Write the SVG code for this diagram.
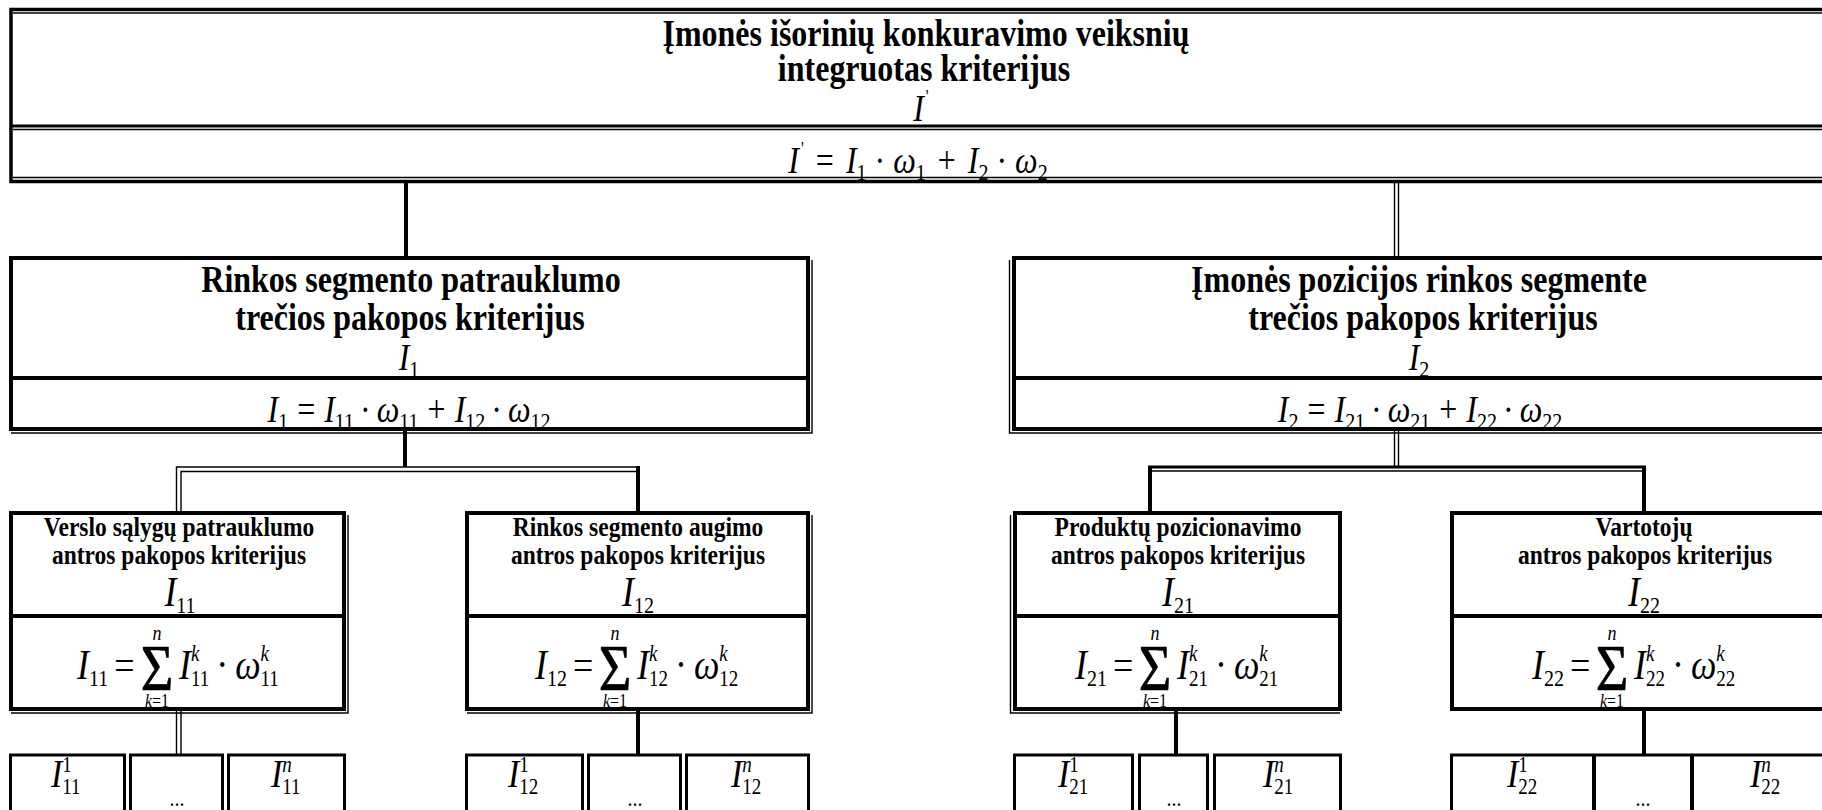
<svg xmlns="http://www.w3.org/2000/svg" width="1822" height="810" viewBox="0 0 1822 810">
<style>
.bg{fill:#fff}
.frm{fill:none;stroke:#000;stroke-width:4}
.cell{fill:none;stroke:#000;stroke-width:3}
.thk{stroke:#000;stroke-width:4;fill:none}
.thn{stroke:#000;stroke-width:1.4;fill:none}
.t{font-family:"Liberation Serif","Times New Roman",serif;font-weight:bold;fill:#000;text-anchor:middle}
.t1{font-size:32px}
.t3{font-size:23.5px}
.m{font-family:"Liberation Serif","Times New Roman",serif;fill:#000}
.it{font-style:italic}
.mid{text-anchor:middle}
.sig{font-family:"Liberation Serif","Times New Roman",serif;fill:#000;text-anchor:middle;font-size:56px;stroke:#000;stroke-width:0.6}
</style>
<rect class="bg" x="0" y="0" width="1822" height="810"/>

<g id="connectors">
  <line class="thk" x1="406" y1="183" x2="406" y2="257"/>
  <line class="thn" x1="1394.5" y1="183" x2="1394.5" y2="257"/>
  <line class="thn" x1="1398.5" y1="183" x2="1398.5" y2="257"/>
  <line class="thk" x1="405" y1="431" x2="405" y2="467"/>
  <path class="thn" d="M176.5 512 V467 H640"/>
  <path class="thn" d="M181 512 V471.5 H636"/>
  <line class="thk" x1="638" y1="466" x2="638" y2="512"/>
  <line class="thn" x1="1394.5" y1="431" x2="1394.5" y2="466"/>
  <line class="thn" x1="1398.5" y1="431" x2="1398.5" y2="466"/>
  <line stroke="#000" stroke-width="3" x1="1148" y1="467" x2="1646" y2="467"/>
  <line class="thn" x1="1152" y1="471" x2="1642" y2="471"/>
  <line class="thk" x1="1150" y1="466" x2="1150" y2="512"/>
  <line class="thk" x1="1644" y1="466" x2="1644" y2="512"/>
  <line class="thn" x1="176.5" y1="711" x2="176.5" y2="754"/>
  <line class="thn" x1="181" y1="711" x2="181" y2="754"/>
  <line class="thk" x1="638" y1="711" x2="638" y2="754"/>
  <line class="thk" x1="1176" y1="711" x2="1176" y2="754"/>
  <line class="thk" x1="1644" y1="711" x2="1644" y2="754"/>
</g>

<g id="node-top">
  <rect x="11" y="9.5" width="1840" height="172" fill="none" stroke="#000" stroke-width="3.5"/>
  <line class="thn" x1="13" y1="13" x2="1822" y2="13"/>
  <line stroke="#000" stroke-width="3" x1="11" y1="126" x2="1822" y2="126"/>
  <line class="thn" x1="13" y1="129.5" x2="1822" y2="129.5"/>
  <line class="thn" x1="13" y1="177.5" x2="1822" y2="177.5"/>
  <text class="t t1" transform="translate(926 46) scale(1 1.18)">Įmonės išorinių konkuravimo veiksnių</text>
  <text class="t t1" transform="translate(924 81) scale(1 1.18)">integruotas kriterijus</text>
  <text class="m mid" transform="translate(921 121) scale(1 1.18)" font-size="32"><tspan class="it">I</tspan><tspan font-size="16" dy="-15" dx="2">'</tspan></text>
  <text class="m mid" transform="translate(918 173) scale(1 1.18)" font-size="32"><tspan class="it">I</tspan><tspan font-size="16" dy="-15" dx="2">'</tspan><tspan dy="15" dx="12">=</tspan><tspan class="it" dx="12">I</tspan><tspan font-size="20" dy="6">1</tspan><tspan dy="-6" dx="8">·</tspan><tspan class="it" dx="8">ω</tspan><tspan font-size="20" dy="6">1</tspan><tspan dy="-6" dx="12">+</tspan><tspan class="it" dx="12">I</tspan><tspan font-size="20" dy="6">2</tspan><tspan dy="-6" dx="8">·</tspan><tspan class="it" dx="8">ω</tspan><tspan font-size="20" dy="6">2</tspan></text>
</g>

<g id="node-I1">
  <rect class="frm" x="11" y="258" width="797" height="171"/>
  <line class="thk" x1="11" y1="378" x2="808" y2="378"/>
  <path class="thn" d="M812 260 V433 H11"/>
  <text class="t t1" transform="translate(411 292) scale(1 1.18)">Rinkos segmento patrauklumo</text>
  <text class="t t1" transform="translate(410 330) scale(1 1.18)">trečios pakopos kriterijus</text>
  <text class="m mid" transform="translate(409 370) scale(1 1.18)" font-size="32"><tspan class="it">I</tspan><tspan font-size="20" dy="6">1</tspan></text>
  <text class="m mid" transform="translate(409 422) scale(1 1.18)" font-size="32"><tspan class="it">I</tspan><tspan font-size="20" dy="6">1</tspan><tspan dy="-6" dx="9">=</tspan><tspan class="it" dx="9">I</tspan><tspan font-size="20" dy="6">11</tspan><tspan dy="-6" dx="6">·</tspan><tspan class="it" dx="6">ω</tspan><tspan font-size="20" dy="6">11</tspan><tspan dy="-6" dx="9">+</tspan><tspan class="it" dx="9">I</tspan><tspan font-size="20" dy="6">12</tspan><tspan dy="-6" dx="6">·</tspan><tspan class="it" dx="6">ω</tspan><tspan font-size="20" dy="6">12</tspan></text>
</g>

<g id="node-I2">
  <rect class="frm" x="1014" y="258" width="830" height="171"/>
  <line class="thk" x1="1014" y1="378" x2="1822" y2="378"/>
  <path class="thn" d="M1009.5 260 V433 H1822"/>
  <text class="t t1" transform="translate(1419 292) scale(1 1.18)">Įmonės pozicijos rinkos segmente</text>
  <text class="t t1" transform="translate(1423 330) scale(1 1.18)">trečios pakopos kriterijus</text>
  <text class="m mid" transform="translate(1419 370) scale(1 1.18)" font-size="32"><tspan class="it">I</tspan><tspan font-size="20" dy="6">2</tspan></text>
  <text class="m mid" transform="translate(1420 422) scale(1 1.18)" font-size="32"><tspan class="it">I</tspan><tspan font-size="20" dy="6">2</tspan><tspan dy="-6" dx="9">=</tspan><tspan class="it" dx="9">I</tspan><tspan font-size="20" dy="6">21</tspan><tspan dy="-6" dx="6">·</tspan><tspan class="it" dx="6">ω</tspan><tspan font-size="20" dy="6">21</tspan><tspan dy="-6" dx="9">+</tspan><tspan class="it" dx="9">I</tspan><tspan font-size="20" dy="6">22</tspan><tspan dy="-6" dx="6">·</tspan><tspan class="it" dx="6">ω</tspan><tspan font-size="20" dy="6">22</tspan></text>
</g>

<g id="node-I11">
  <rect class="frm" x="11" y="513" width="333" height="196"/>
  <line class="thk" x1="11" y1="616" x2="344" y2="616"/>
  <path class="thn" d="M348 515 V713 H11"/>
  <text class="t t3" transform="translate(179 536) scale(1 1.18)">Verslo sąlygų patrauklumo</text>
  <text class="t t3" transform="translate(179 564) scale(1 1.18)">antros pakopos kriterijus</text>
  <text class="m mid" transform="translate(180 606) scale(1 1.18)" font-size="36"><tspan class="it">I</tspan><tspan font-size="20" dy="6">11</tspan></text>
  <g transform="translate(77,679) scale(1 1.18)">
    <text class="m" font-size="36"><tspan class="it">I</tspan><tspan font-size="20" dy="6">11</tspan><tspan dy="-6" dx="6">=</tspan></text>
    <text class="sig" x="80" y="9">Σ</text>
    <text class="m mid it" x="80" y="-33" font-size="18">n</text>
    <text class="m mid" x="80" y="24" font-size="16"><tspan class="it">k</tspan>=1</text>
    <text class="m" x="102" font-size="36"><tspan class="it">I</tspan><tspan class="it" font-size="19" dy="-15">k</tspan><tspan font-size="19" dx="-8.5" dy="21">11</tspan><tspan dx="7" dy="-6">·</tspan><tspan class="it" dx="7">ω</tspan><tspan class="it" font-size="19" dy="-15">k</tspan><tspan font-size="19" dx="-8.5" dy="21">11</tspan></text>
  </g>
</g>

<g id="node-I12">
  <rect class="frm" x="467" y="513" width="341" height="196"/>
  <line class="thk" x1="467" y1="616" x2="808" y2="616"/>
  <path class="thn" d="M812 515 V713 H467"/>
  <text class="t t3" transform="translate(638 536) scale(1 1.18)">Rinkos segmento augimo</text>
  <text class="t t3" transform="translate(638 564) scale(1 1.18)">antros pakopos kriterijus</text>
  <text class="m mid" transform="translate(638 606) scale(1 1.18)" font-size="36"><tspan class="it">I</tspan><tspan font-size="20" dy="6">12</tspan></text>
  <g transform="translate(535,679) scale(1 1.18)">
    <text class="m" font-size="36"><tspan class="it">I</tspan><tspan font-size="20" dy="6">12</tspan><tspan dy="-6" dx="6">=</tspan></text>
    <text class="sig" x="80" y="9">Σ</text>
    <text class="m mid it" x="80" y="-33" font-size="18">n</text>
    <text class="m mid" x="80" y="24" font-size="16"><tspan class="it">k</tspan>=1</text>
    <text class="m" x="102" font-size="36"><tspan class="it">I</tspan><tspan class="it" font-size="19" dy="-15">k</tspan><tspan font-size="19" dx="-8.5" dy="21">12</tspan><tspan dx="7" dy="-6">·</tspan><tspan class="it" dx="7">ω</tspan><tspan class="it" font-size="19" dy="-15">k</tspan><tspan font-size="19" dx="-8.5" dy="21">12</tspan></text>
  </g>
</g>

<g id="node-I21">
  <rect class="frm" x="1015" y="513" width="325" height="196"/>
  <line class="thk" x1="1015" y1="616" x2="1340" y2="616"/>
  <path class="thn" d="M1010.5 515 V713 H1340"/>
  <text class="t t3" transform="translate(1178 536) scale(1 1.18)">Produktų pozicionavimo</text>
  <text class="t t3" transform="translate(1178 564) scale(1 1.18)">antros pakopos kriterijus</text>
  <text class="m mid" transform="translate(1178 606) scale(1 1.18)" font-size="36"><tspan class="it">I</tspan><tspan font-size="20" dy="6">21</tspan></text>
  <g transform="translate(1075,679) scale(1 1.18)">
    <text class="m" font-size="36"><tspan class="it">I</tspan><tspan font-size="20" dy="6">21</tspan><tspan dy="-6" dx="6">=</tspan></text>
    <text class="sig" x="80" y="9">Σ</text>
    <text class="m mid it" x="80" y="-33" font-size="18">n</text>
    <text class="m mid" x="80" y="24" font-size="16"><tspan class="it">k</tspan>=1</text>
    <text class="m" x="102" font-size="36"><tspan class="it">I</tspan><tspan class="it" font-size="19" dy="-15">k</tspan><tspan font-size="19" dx="-8.5" dy="21">21</tspan><tspan dx="7" dy="-6">·</tspan><tspan class="it" dx="7">ω</tspan><tspan class="it" font-size="19" dy="-15">k</tspan><tspan font-size="19" dx="-8.5" dy="21">21</tspan></text>
  </g>
</g>

<g id="node-I22">
  <rect class="frm" x="1452" y="513" width="390" height="196"/>
  <line class="thk" x1="1452" y1="616" x2="1822" y2="616"/>
  <text class="t t3" transform="translate(1644 536) scale(1 1.18)">Vartotojų</text>
  <text class="t t3" transform="translate(1645 564) scale(1 1.18)">antros pakopos kriterijus</text>
  <text class="m mid" transform="translate(1644 606) scale(1 1.18)" font-size="36"><tspan class="it">I</tspan><tspan font-size="20" dy="6">22</tspan></text>
  <g transform="translate(1532,679) scale(1 1.18)">
    <text class="m" font-size="36"><tspan class="it">I</tspan><tspan font-size="20" dy="6">22</tspan><tspan dy="-6" dx="6">=</tspan></text>
    <text class="sig" x="80" y="9">Σ</text>
    <text class="m mid it" x="80" y="-33" font-size="18">n</text>
    <text class="m mid" x="80" y="24" font-size="16"><tspan class="it">k</tspan>=1</text>
    <text class="m" x="102" font-size="36"><tspan class="it">I</tspan><tspan class="it" font-size="19" dy="-15">k</tspan><tspan font-size="19" dx="-8.5" dy="21">22</tspan><tspan dx="7" dy="-6">·</tspan><tspan class="it" dx="7">ω</tspan><tspan class="it" font-size="19" dy="-15">k</tspan><tspan font-size="19" dx="-8.5" dy="21">22</tspan></text>
  </g>
</g>

<g id="node-I11-items">
  <rect class="cell" x="10.5" y="755" width="114" height="80"/>
  <rect class="cell" x="130.5" y="755" width="92" height="80"/>
  <rect class="cell" x="228.5" y="755" width="116" height="80"/>
  <text class="m" transform="translate(51 787) scale(1 1.18)" font-size="34"><tspan class="it">I</tspan><tspan font-size="19" dy="-13">1</tspan><tspan font-size="19" dx="-9.5" dy="19">11</tspan></text>
  <text class="m mid" transform="translate(177 806) scale(1 1.18)" font-size="20">...</text>
  <text class="m" transform="translate(271 787) scale(1 1.18)" font-size="34"><tspan class="it">I</tspan><tspan class="it" font-size="19" dy="-13">n</tspan><tspan font-size="19" dx="-9.5" dy="19">11</tspan></text>
</g>

<g id="node-I12-items">
  <rect class="cell" x="466.5" y="755" width="116" height="80"/>
  <rect class="cell" x="588.5" y="755" width="92" height="80"/>
  <rect class="cell" x="686.5" y="755" width="122" height="80"/>
  <text class="m" transform="translate(508 787) scale(1 1.18)" font-size="34"><tspan class="it">I</tspan><tspan font-size="19" dy="-13">1</tspan><tspan font-size="19" dx="-9.5" dy="19">12</tspan></text>
  <text class="m mid" transform="translate(635 806) scale(1 1.18)" font-size="20">...</text>
  <text class="m" transform="translate(731 787) scale(1 1.18)" font-size="34"><tspan class="it">I</tspan><tspan class="it" font-size="19" dy="-13">n</tspan><tspan font-size="19" dx="-9.5" dy="19">12</tspan></text>
</g>

<g id="node-I21-items">
  <rect class="cell" x="1014.5" y="755" width="118" height="80"/>
  <rect class="cell" x="1139.5" y="755" width="68" height="80"/>
  <rect class="cell" x="1214.5" y="755" width="126" height="80"/>
  <text class="m" transform="translate(1058 787) scale(1 1.18)" font-size="34"><tspan class="it">I</tspan><tspan font-size="19" dy="-13">1</tspan><tspan font-size="19" dx="-9.5" dy="19">21</tspan></text>
  <text class="m mid" transform="translate(1174 806) scale(1 1.18)" font-size="20">...</text>
  <text class="m" transform="translate(1263 787) scale(1 1.18)" font-size="34"><tspan class="it">I</tspan><tspan class="it" font-size="19" dy="-13">n</tspan><tspan font-size="19" dx="-9.5" dy="19">21</tspan></text>
</g>

<g id="node-I22-items">
  <rect class="cell" x="1451.5" y="755" width="390" height="80"/>
  <line class="thk" x1="1594" y1="755" x2="1594" y2="835"/>
  <line class="thk" x1="1692" y1="755" x2="1692" y2="835"/>
  <text class="m" transform="translate(1507 787) scale(1 1.18)" font-size="34"><tspan class="it">I</tspan><tspan font-size="19" dy="-13">1</tspan><tspan font-size="19" dx="-9.5" dy="19">22</tspan></text>
  <text class="m mid" transform="translate(1643 806) scale(1 1.18)" font-size="20">...</text>
  <text class="m" transform="translate(1750 787) scale(1 1.18)" font-size="34"><tspan class="it">I</tspan><tspan class="it" font-size="19" dy="-13">n</tspan><tspan font-size="19" dx="-9.5" dy="19">22</tspan></text>
</g>
</svg>
